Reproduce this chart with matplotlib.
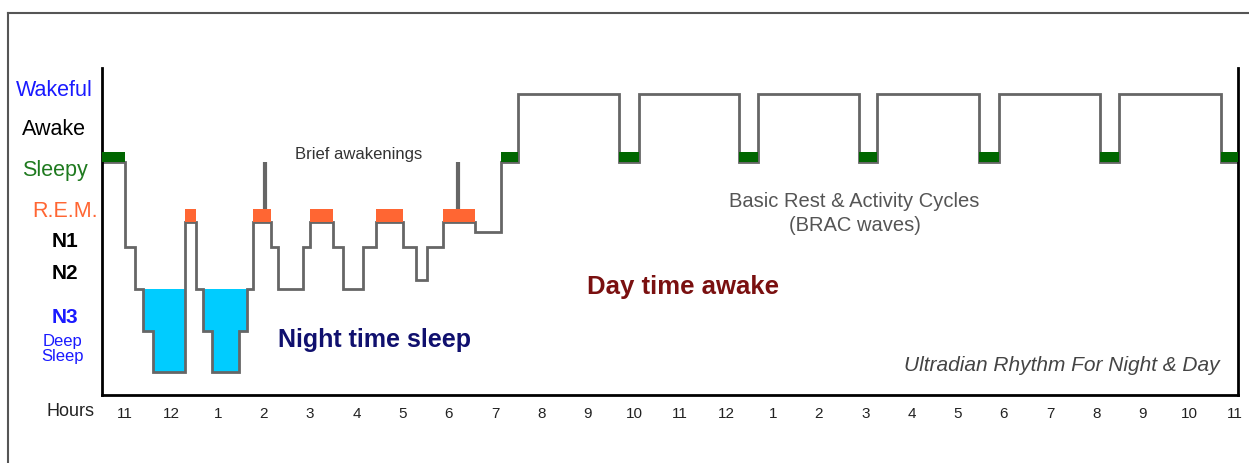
import numpy as np
import matplotlib
matplotlib.use("Agg")
import matplotlib.pyplot as plt
from matplotlib.lines import Line2D

plt.rcParams['font.family'] = ['Liberation Sans', 'DejaVu Sans']

# stage levels (height above the bottom axis)
WAKE = 6.02
SLEEPY = 4.66
REM = 3.46
N1 = 2.96
N2 = 2.12
N3 = 1.28
N4 = 0.46

# hours after 11 pm where each step starts, and the level held from there
step_edges = [-0.5, 0.0, 0.22, 0.39, 0.60, 1.30, 1.53, 1.68, 1.88, 2.46, 2.64,
              2.76, 3.15, 3.30, 3.84, 4.00, 4.49, 4.71, 5.14, 5.42, 6.00, 6.29,
              6.52, 6.87, 7.56, 8.12, 8.49, 10.67, 11.10, 13.28, 13.69, 15.87,
              16.26, 18.47, 18.90, 21.08, 21.49, 23.69, 24.06]
step_levels = [SLEEPY, N1, N2, N3, N4, REM, N2, N3, N4, N3, N2,
               REM, N1, N2, N1, REM, N1, N2, N1, REM, N1, 2.30,
               N1, REM, 3.26, SLEEPY, WAKE, SLEEPY, WAKE, SLEEPY, WAKE, SLEEPY,
               WAKE, SLEEPY, WAKE, SLEEPY, WAKE, SLEEPY]

# brief awakenings (hours)
spikes = [3.02, 7.19]

hour_labels = ['11', '12', '1', '2', '3', '4', '5', '6', '7', '8', '9', '10',
               '11', '12', '1', '2', '3', '4', '5', '6', '7', '8', '9', '10', '11']

stage_names = ['Wakeful', 'Awake', 'Sleepy', 'R.E.M.', 'N1', 'N2', 'N3', 'Deep\nSleep']
stage_y = [6.1, 5.32, 4.5, 3.68, 3.08, 2.44, 1.56, 0.94]
stage_x = [-1.53, -1.53, -1.51, -1.30, -1.30, -1.30, -1.30, -1.36]
stage_colors = ['#1a1aff', 'black', '#1f7a1f', '#ff6633', 'black', 'black', '#1a1aff', '#1a1aff']
stage_sizes = [15.5, 15.5, 15.5, 15.5, 15, 15, 15, 12]
stage_weights = ['normal', 'normal', 'normal', 'normal', 'bold', 'bold', 'bold', 'normal']

edges = np.array(step_edges)
levels = np.array(step_levels)

fig = plt.figure(figsize=(12.49, 4.64), dpi=100)
ax = fig.add_axes([0.0817, 0.1466, 0.9095, 0.7047])

# deep sleep fill
ax.stairs(np.minimum(levels, N2), edges, baseline=N2, fill=True,
          color='#00ccff', zorder=1)
# hypnogram line
ax.stairs(levels, edges, baseline=None, color='#666666', lw=2, zorder=2)

# REM and sleepy blocks
widths = np.diff(edges)
for lev, h, col in [(REM, 0.26, '#ff6633'), (SLEEPY, 0.2, '#006600')]:
    m = levels == lev
    ax.bar(edges[:-1][m], h, width=widths[m], bottom=lev, align='edge',
           color=col, zorder=3)

for s in spikes:
    ax.plot([s, s], [REM + 0.26, SLEEPY], color='#666666', lw=3,
            solid_capstyle='butt', zorder=2)

ax.set_xlim(-0.5, 24.06)
ax.set_ylim(0, 6.54)
ax.set_xticks(range(len(hour_labels)))
ax.set_xticklabels(hour_labels, fontsize=11, color='#222222')
ax.tick_params(axis='x', length=0, pad=8)
ax.set_yticks([])
ax.spines['top'].set_visible(False)
for sp in ['left', 'bottom', 'right']:
    ax.spines[sp].set_linewidth(2)
    ax.spines[sp].set_color('black')

for name, x, y, c, fs, fw in zip(stage_names, stage_x, stage_y, stage_colors,
                                 stage_sizes, stage_weights):
    ax.text(x, y, name, ha='center', va='center', color=c, fontsize=fs,
            fontweight=fw, clip_on=False, linespacing=1.0)

ax.text(-1.19, -0.32, 'Hours', ha='center', va='center', fontsize=13,
        color='#222222', clip_on=False)

ax.text(5.05, 4.82, 'Brief awakenings', ha='center', va='center', fontsize=12,
        color='#333333')
ax.text(5.38, 1.12, 'Night time sleep', ha='center', va='center', fontsize=18,
        fontweight='bold', color='#10106e')
ax.text(12.05, 2.18, 'Day time awake', ha='center', va='center', fontsize=18.5,
        fontweight='bold', color='#7a1010')
ax.text(15.77, 3.65, 'Basic Rest & Activity Cycles\n(BRAC waves)', ha='center',
        va='center', fontsize=14.5, color='#555555', linespacing=1.35)
ax.text(20.24, 0.6, 'Ultradian Rhythm For Night & Day', ha='center', va='center',
        fontsize=15, fontstyle='italic', color='#444444')

# outer frame
fig.add_artist(Line2D([0.0064, 1.0], [0.970, 0.970], color='#555555', lw=1.5))
fig.add_artist(Line2D([0.0064, 0.0064], [0.0, 0.970], color='#555555', lw=1.5))

fig.savefig('out.png', dpi=100)
